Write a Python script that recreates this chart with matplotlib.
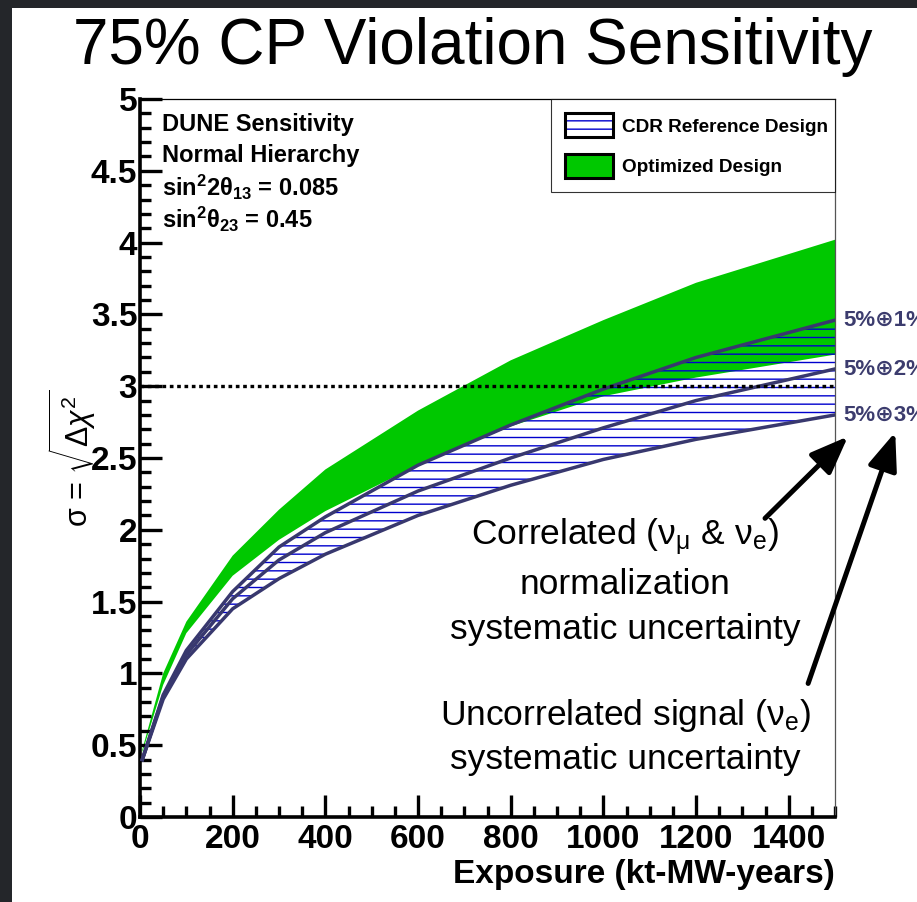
import matplotlib
matplotlib.use("Agg")
import matplotlib.pyplot as plt
from matplotlib.patches import Patch, Rectangle
from matplotlib.legend_handler import HandlerTuple
from matplotlib.ticker import MultipleLocator, FormatStrFormatter

plt.rcParams['font.family'] = ['Liberation Sans', 'DejaVu Sans']
plt.rcParams['mathtext.fontset'] = 'custom'
plt.rcParams['mathtext.rm'] = 'Liberation Sans'
plt.rcParams['mathtext.it'] = 'Liberation Sans:italic'
plt.rcParams['mathtext.bf'] = 'Liberation Sans:bold'
plt.rcParams['hatch.linewidth'] = 1.0

# exposure points (kt-MW-years)
exposure = [5, 50, 100, 200, 300, 400, 600, 800, 1000, 1200, 1500]

# CDR reference design, three systematics assumptions
cdr_1pct = [0.40, 0.85, 1.16, 1.57, 1.88, 2.09, 2.45, 2.73, 2.98, 3.20, 3.46]
cdr_2pct = [0.40, 0.84, 1.13, 1.52, 1.79, 1.98, 2.27, 2.50, 2.71, 2.90, 3.12]
cdr_3pct = [0.40, 0.82, 1.10, 1.45, 1.66, 1.83, 2.10, 2.31, 2.49, 2.63, 2.80]

# optimized design band
opt_low = [0.45, 0.92, 1.28, 1.68, 1.93, 2.13, 2.45, 2.72, 2.93, 3.06, 3.22]
opt_high = [0.47, 1.00, 1.36, 1.82, 2.14, 2.42, 2.83, 3.18, 3.46, 3.72, 4.02]

sys_labels = ['5%\u22951%', '5%\u22952%', '5%\u22953%']
legend_labels = ['CDR Reference Design', 'Optimized Design']
info_lines = ['DUNE Sensitivity',
              'Normal Hierarchy',
              r'sin$^{\mathbf{2}}$2$\mathbf{\theta_{13}}$ = 0.085',
              r'sin$^{\mathbf{2}}$$\mathbf{\theta_{23}}$ = 0.45']

GREEN = '#00c800'
NAVY = '#38386e'
HATCH = '#0000cc'

W, H = 917, 902
fig = plt.figure(figsize=(W / 100, H / 100), dpi=100, facecolor='#24262a')
fig.patches.append(Rectangle((12 / W, 0), 1, (H - 8) / H, transform=fig.transFigure,
                             facecolor='white', edgecolor='none', zorder=-10))

ax = fig.add_axes([140 / W, 85 / H, 695 / W, 718 / H])
ax.set_xlim(0, 1500)
ax.set_ylim(0, 5)

ax.fill_between(exposure, opt_low, opt_high, facecolor=GREEN, edgecolor='none', zorder=1)
ax.fill_between(exposure, cdr_3pct, cdr_1pct, facecolor='none', edgecolor=HATCH,
                hatch='--', linewidth=0, zorder=2)
for curve in (cdr_1pct, cdr_2pct, cdr_3pct):
    ax.plot(exposure, curve, color=NAVY, lw=2.5, zorder=3, solid_joinstyle='round')

ax.axhline(3, color='black', lw=2.4, ls=(0, (1.1, 1.1)), zorder=4)

# curve end labels (cut by the image edge, as in the original)
for lab, curve in zip(sys_labels, (cdr_1pct, cdr_2pct, cdr_3pct)):
    ax.text(1.0115, curve[-1], lab, transform=ax.get_yaxis_transform(),
            ha='left', va='center', fontsize=16, fontweight='bold', color='#3c3c6e')

# info text
for i, line in enumerate(info_lines):
    ax.text(0.032, 0.965 - i * 0.0443, line, transform=ax.transAxes,
            ha='left', va='center', fontsize=17, fontweight='bold')

# legend
h_cdr = (Patch(facecolor='white', edgecolor=HATCH, hatch='--', linewidth=0),
         Patch(facecolor='none', edgecolor='black', linewidth=2.2))
h_opt = Patch(facecolor=GREEN, edgecolor='black', linewidth=2.2)
leg = ax.legend([h_cdr, h_opt], legend_labels, handler_map={tuple: HandlerTuple(ndivide=1)},
                loc='upper left', bbox_to_anchor=(0.591, 0, 0.409, 1), mode='expand',
                borderaxespad=0, borderpad=0.75, handlelength=2.5, handleheight=1.58,
                handletextpad=0.5, labelspacing=0.85, fancybox=False,
                prop=dict(weight='bold', size=13.7))
leg.get_frame().set_edgecolor('black')
leg.get_frame().set_linewidth(0.8)

# annotations
corr_lines = [r'Correlated ($\mathrm{\nu_{\mu}}$ & $\mathrm{\nu_{e}}$)', 'normalization',
              'systematic uncertainty']
for lab, yv in zip(corr_lines, [1.954, 1.616, 1.309]):
    ax.text(1047, yv, lab, ha='center', va='center', fontsize=25.5)
uncorr_lines = [r'Uncorrelated signal ($\mathrm{\nu_{e}}$)', 'systematic uncertainty']
for lab, yv in zip(uncorr_lines, [0.71, 0.397]):
    ax.text(1047, yv, lab, ha='center', va='center', fontsize=25.5)

arrow_style = dict(arrowstyle='-|>,head_length=1.15,head_width=0.45', mutation_scale=20,
                   lw=3.6, color='black', shrinkA=0, shrinkB=0)
ax.annotate('', xy=(1528, 2.65), xytext=(1349, 2.08), arrowprops=arrow_style,
            annotation_clip=False)
ax.annotate('', xy=(1630, 2.68), xytext=(1442, 0.93), arrowprops=arrow_style,
            annotation_clip=False)

# axes styling
for side in ('left', 'bottom'):
    ax.spines[side].set_linewidth(2.6)
ax.spines['top'].set_linewidth(0.9)
ax.spines['right'].set_linewidth(0.9)
ax.spines['right'].set_color('#555555')

ax.xaxis.set_major_locator(MultipleLocator(200))
ax.xaxis.set_minor_locator(MultipleLocator(50))
ax.yaxis.set_major_locator(MultipleLocator(0.5))
ax.yaxis.set_minor_locator(MultipleLocator(0.1))
ax.yaxis.set_major_formatter(FormatStrFormatter('%g'))
ax.tick_params(which='both', direction='in', top=False, right=False, width=2.4)
ax.tick_params(which='major', length=16)
ax.tick_params(which='minor', length=8)
ax.tick_params(axis='y', labelsize=24, pad=2)
ax.tick_params(axis='x', labelsize=24, pad=5)
for lab in ax.get_xticklabels() + ax.get_yticklabels():
    lab.set_fontweight('bold')

ax.set_xlabel('Exposure (kt-MW-years)', fontsize=24, fontweight='bold', loc='right')
ax.xaxis.set_label_coords(1.0, -0.058)
ax.xaxis.label.set_va('top')

fig.text(72 / W, 1 - 458 / H, r'$\mathrm{\sigma}$ = $\sqrt{\Delta\chi^{2}}$',
         rotation=90, ha='center', va='center', fontsize=22)

fig.text(473 / W, 1 - 47 / H, '75% CP Violation Sensitivity', ha='center', va='center',
         fontsize=46)

fig.savefig('out.png', dpi=100, facecolor=fig.get_facecolor())
